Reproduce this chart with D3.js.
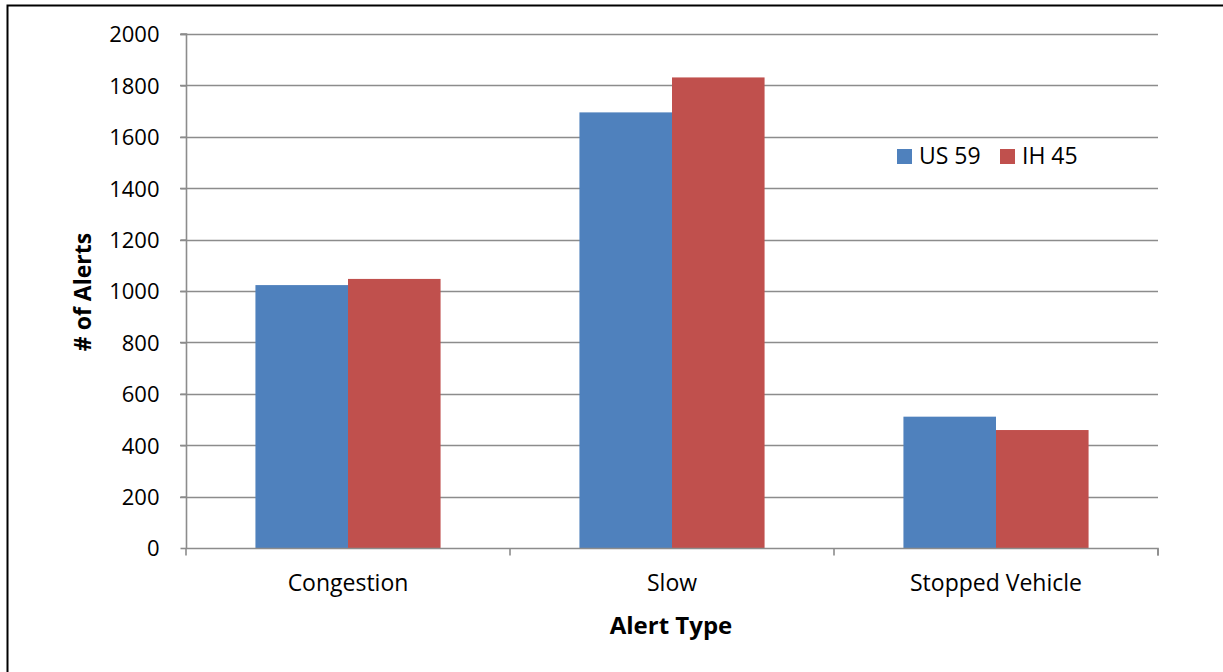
<!DOCTYPE html>
<html>
<head>
<meta charset="utf-8">
<script src="https://cdn.jsdelivr.net/npm/d3@7"></script>
<style>
  html, body { margin: 0; padding: 0; background: #fff; }
  svg { display: block; }
  text { font-family: "Open Sans", Lato, sans-serif; fill: #000; font-variant-ligatures: none; }
</style>
</head>
<body>
<svg id="chart" width="1223" height="672"></svg>
<script>
// Alert counts by type, per corridor
const categories = ["Congestion", "Slow", "Stopped Vehicle"];
const seriesNames = ["US 59", "IH 45"];
const us59 = [1023, 1695, 511];
const ih45 = [1047, 1831, 459];
const yTicks = [0, 200, 400, 600, 800, 1000, 1200, 1400, 1600, 1800, 2000];
const colors = ["#4f81bd", "#c0504d"];

const seriesValues = [us59, ih45];

const svg = d3.select("#chart");
const W = 1223, H = 672;
const plot = { left: 186, right: 1158, top: 34, bottom: 548 };
const axisColor = "#8c8c8c";

// frame around the chart
svg.append("path")
  .attr("d", `M7.5,${H} V5.5 H${W}`)
  .attr("fill", "none").attr("stroke", "#000").attr("stroke-width", 2);

const x = d3.scaleBand().domain(categories).range([plot.left, plot.right]).paddingInner(0).paddingOuter(0);
const yScale = d3.scaleLinear().domain([0, 2000]).range([plot.bottom, plot.top]);
// two bars per group, 150% gap between groups
const inner = d3.scaleBand().domain(seriesNames)
  .range([0, x.bandwidth()]).paddingInner(0).paddingOuter(0.75);

// gridlines
svg.append("g").selectAll("line").data(yTicks.filter(d => d > 0)).join("line")
  .attr("x1", plot.left - 6).attr("x2", plot.right)
  .attr("y1", d => Math.round(yScale(d)) + 0.5).attr("y2", d => Math.round(yScale(d)) + 0.5)
  .attr("stroke", axisColor).attr("stroke-width", 1.6);

// bars
const groups = svg.append("g").selectAll("g").data(categories).join("g")
  .attr("transform", d => `translate(${x(d)},0)`);
groups.selectAll("rect")
  .data((c, i) => seriesValues.map((s, k) => ({ name: seriesNames[k], k, v: s[i] })))
  .join("rect")
  .attr("x", d => inner(d.name))
  .attr("width", inner.bandwidth())
  .attr("y", d => yScale(d.v))
  .attr("height", d => yScale(0) - yScale(d.v))
  .attr("fill", d => colors[d.k]);

// y axis
const yAxis = d3.axisLeft(yScale).tickValues(yTicks).tickSize(6).tickFormat(d3.format("d"));
const ya = svg.append("g").attr("transform", `translate(${plot.left + 0.5},0)`).call(yAxis);
ya.select(".domain").attr("stroke", axisColor).attr("stroke-width", 1.6).attr("d", `M-6,${plot.top}H0V${plot.bottom}`);
ya.selectAll(".tick line").attr("stroke", axisColor).attr("stroke-width", 1.6);
ya.selectAll(".tick text").attr("x", -27).attr("dy", "0.36em")
  .style("font-size", "22px").style("font-family", "'Open Sans', sans-serif").attr("fill", "#000");

// x axis
const xAxis = d3.axisBottom(x).tickSize(0);
const xa = svg.append("g").attr("transform", `translate(0,${plot.bottom + 0.5})`).call(xAxis);
xa.select(".domain").attr("stroke", axisColor).attr("stroke-width", 1.6)
  .attr("d", `M${plot.left},0H${plot.right}V7`);
xa.selectAll(".tick text").attr("y", 42).attr("dy", 0)
  .style("font-size", "23px").style("font-family", "'Open Sans', sans-serif").attr("fill", "#000");
// category separators
xa.selectAll("line.sep").data(d3.range(0, categories.length + 1)).join("line")
  .attr("class", "sep")
  .attr("x1", i => plot.left + i * x.bandwidth()).attr("x2", i => plot.left + i * x.bandwidth())
  .attr("y1", 0).attr("y2", 7)
  .attr("stroke", axisColor).attr("stroke-width", 1.6);

// axis titles
svg.append("text")
  .attr("transform", `translate(91,292) rotate(-90)`)
  .attr("text-anchor", "middle")
  .style("font-size", "23px").style("font-weight", "bold")
  .text("# of Alerts");
svg.append("text")
  .attr("x", 671).attr("y", 634)
  .attr("text-anchor", "middle")
  .style("font-size", "24px").style("font-weight", "bold")
  .text("Alert Type");

// legend
const legend = svg.append("g").attr("transform", "translate(897,149)");
const items = legend.selectAll("g").data(seriesNames).join("g")
  .attr("transform", (d, i) => `translate(${i * 103},0)`);
items.append("rect").attr("width", 15).attr("height", 15).attr("fill", (d, i) => colors[i]);
items.append("text").attr("x", 22).attr("y", 15).style("font-size", "23px").text(d => d);
</script>
</body>
</html>
